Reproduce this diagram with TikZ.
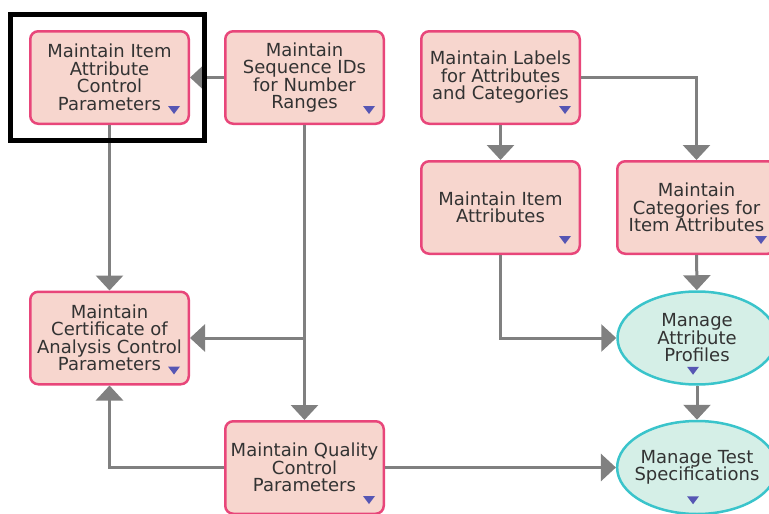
\documentclass[tikz,border=0pt]{standalone}
\usepackage{fontspec}
\setmainfont{DejaVu Sans}
\usetikzlibrary{arrows.meta,shapes.geometric}
\definecolor{taskfill}{HTML}{F7D6CE}
\definecolor{taskline}{HTML}{E8467A}
\definecolor{proffill}{HTML}{D5EFE7}
\definecolor{profline}{HTML}{3AC4CB}
\definecolor{flowgray}{HTML}{808080}
\definecolor{labelgray}{HTML}{333333}
\definecolor{markblue}{HTML}{5656B4}
\tikzset{
   task/.style={draw=taskline, fill=taskfill, line width=2.5pt, rounded corners=8pt,
      minimum width=158.5pt, minimum height=92.5pt, inner sep=0pt, align=center,
      text=labelgray, font=\fontsize{18}{17.5}\selectfont},
   profile/.style={ellipse, draw=profline, fill=proffill, line width=2.5pt,
      minimum width=159pt, minimum height=93pt, inner sep=-6pt, align=center,
      text=labelgray, font=\fontsize{18}{17.5}\selectfont},
   flow/.style={draw=flowgray, line width=3pt, -{Triangle[length=15pt,width=27pt]}},
}
\begin{document}
\begin{tikzpicture}[x=1pt,y=-1pt]
   \useasboundingbox (0,0) rectangle (769,514);
   \clip (0,0) rectangle (769,514);
   % tasks
   \node[task] (A) at (109.5,77.5) {Maintain Item\\Attribute\\Control\\Parameters};
   \node[task] (B) at (304.5,77.5) {Maintain\\Sequence IDs\\for Number\\Ranges};
   \node[task] (C) at (500.5,77.5) {Maintain Labels\\for Attributes\\and Categories};
   \node[task] (D) at (500.5,207.5) {Maintain Item\\Attributes};
   \node[task] (E) at (696.5,207.5) {Maintain\\Categories for\\Item Attributes};
   \node[task] (F) at (109.5,338) {Maintain\\Certificate of\\Analysis Control\\Parameters};
   \node[task] (H) at (304.5,467.5) {Maintain Quality\\Control\\Parameters};
   \node[profile] (G) at (697,338) {Manage\\Attribute\\Profiles};
   \node[profile] (I) at (697,467.5) {Manage Test\\Specifications};
   \coordinate (split) at (B |- F);
   % markers
   \foreach \n in {A,B,C,D,E,F,H} {
      \fill[markblue, shift={(\n.south east)}] (-22,-19) -- (-10,-19) -- (-16,-11) -- cycle;
   }
   \foreach \n in {G,I} {
      \fill[markblue, shift={(\n.south)}] (-10,-19) -- (2,-19) -- (-4,-11) -- cycle;
   }
   % connectors
   \draw[flow] (B) -- (A);
   \draw[flow] (A) -- (F);
   \draw[flow] (B) -- (H);
   \draw[flow] (split) -- (F);
   \draw[flow] (H.west) -| (F.south);
   \draw[flow] (H) -- (I);
   \draw[flow] (C) -- (D);
   \draw[flow] (C.east) -| (E.north);
   \draw[flow] (D.south) |- (G.west);
   \draw[flow] (E) -- (G);
   \draw[flow] (G) -- (I);
   % highlight
   \draw[line width=5pt] (10.5,14.5) rectangle (204.5,140.5);
\end{tikzpicture}
\end{document}
